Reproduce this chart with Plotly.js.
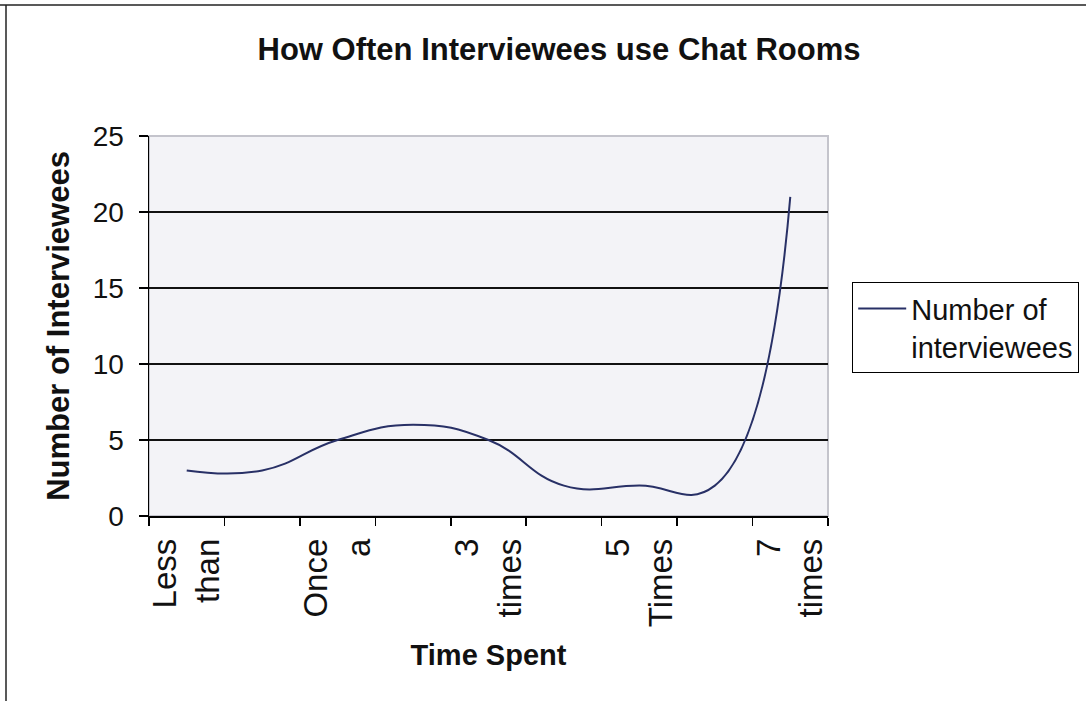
<!DOCTYPE html>
<html>
<head>
<meta charset="utf-8">
<script src="https://cdn.plot.ly/plotly-3.0.1.min.js"></script>
<style>
  html, body { margin: 0; padding: 0; background: #ffffff; }
  #chart { width: 1086px; height: 701px; }
</style>
</head>
<body>
<div id="chart"></div>
<script>
// Survey answers, one value per time-spent category (left to right)
const categoryIndex = [0, 1, 2, 3, 4, 5, 6, 7, 8];
const interviewees = [3, 3, 5, 6, 5, 2, 2, 2, 21];

// Only every other category carries a (wrapped, clipped) label on the axis
const labelPositions = [0, 2, 4, 6, 8];
const labelTexts = ['Less<br>than', 'Once<br>a', '3<br>times', '5<br>Times', '7<br>times'];

// Category boundaries, where the axis tick marks sit
const boundaryTicks = [-0.5, 0.5, 1.5, 2.5, 3.5, 4.5, 5.5, 6.5, 7.5, 8.5];

const yTicks = [0, 5, 10, 15, 20, 25];

const W = 1086, H = 701;
const M = { l: 149, r: 258, t: 136, b: 185, autoexpand: false };
const plotW = W - M.l - M.r, plotH = H - M.t - M.b;
const px2x = p => (p - M.l) / plotW;
const px2y = p => (H - M.b - p) / plotH;

const FONT = 'Liberation Sans, Arial, Helvetica, sans-serif';

const trace = {
  x: categoryIndex,
  y: interviewees,
  type: 'scatter',
  mode: 'lines',
  name: 'Number of<br>interviewees',
  line: { color: '#283066', width: 2, shape: 'spline', smoothing: 1.3 },
  hoverinfo: 'x+y'
};

const layout = {
  width: W,
  height: H,
  margin: M,
  paper_bgcolor: '#ffffff',
  plot_bgcolor: '#f3f3f7',
  font: { family: FONT, color: '#000000' },
  title: {
    text: '<b>How Often Interviewees use Chat Rooms</b>',
    font: { family: FONT, size: 31, color: '#111111' },
    xref: 'container', yref: 'container',
    x: 559 / W, y: 1 - 49 / H, xanchor: 'center', yanchor: 'middle'
  },
  xaxis: {
    range: [-0.5, 8.5],
    tickmode: 'array',
    tickvals: labelPositions,
    ticktext: labelTexts,
    tickangle: -90,
    ticks: '',
    ticklabelstandoff: 8,
    tickfont: { family: FONT, size: 33, color: '#111111' },
    minor: {
      tickmode: 'array',
      tickvals: boundaryTicks,
      ticks: 'outside',
      ticklen: 8,
      tickwidth: 1.5,
      tickcolor: '#000000',
      showgrid: false
    },
    showgrid: false,
    zeroline: false,
    showline: true,
    linecolor: '#000000',
    linewidth: 1.5,
    automargin: false,
    title: {
      text: '<b>Time Spent</b>',
      font: { family: FONT, size: 29, color: '#111111' },
      standoff: 18
    }
  },
  yaxis: {
    range: [0, 25],
    tickmode: 'array',
    tickvals: yTicks,
    ticks: 'outside',
    ticklen: 9,
    tickwidth: 1.5,
    tickcolor: '#000000',
    ticklabelstandoff: 9,
    tickfont: { family: FONT, size: 28, color: '#111111' },
    showgrid: true,
    gridcolor: '#111111',
    gridwidth: 1.2,
    zeroline: false,
    showline: true,
    linecolor: '#000000',
    linewidth: 1.5,
    automargin: false,
    title: {
      text: '<b>Number of Interviewees</b>',
      font: { family: FONT, size: 31, color: '#111111' },
      standoff: 14
    }
  },
  showlegend: true,
  legend: {
    x: px2x(852), y: px2y(282),
    xanchor: 'left', yanchor: 'top',
    bgcolor: '#ffffff',
    bordercolor: '#000000',
    borderwidth: 1.2,
    valign: 'top',
    itemwidth: 48,
    font: { family: FONT, size: 29, color: '#111111' }
  },
  shapes: [
    // light outline of the plot area (top and right edges)
    { type: 'rect', xref: 'paper', yref: 'paper', x0: 0, x1: 1, y0: 0, y1: 1,
      line: { color: '#c4c4cc', width: 2 }, layer: 'between' },
    // chart frame: top and left edges
    { type: 'line', xref: 'paper', yref: 'paper',
      x0: px2x(0), x1: px2x(1086), y0: px2y(5), y1: px2y(5),
      line: { color: '#222222', width: 1.5 } },
    { type: 'line', xref: 'paper', yref: 'paper',
      x0: px2x(6), x1: px2x(6), y0: px2y(5), y1: px2y(701),
      line: { color: '#222222', width: 1.5 } }
  ]
};

Plotly.newPlot('chart', [trace], layout, { staticPlot: true, displayModeBar: false });
</script>
</body>
</html>
